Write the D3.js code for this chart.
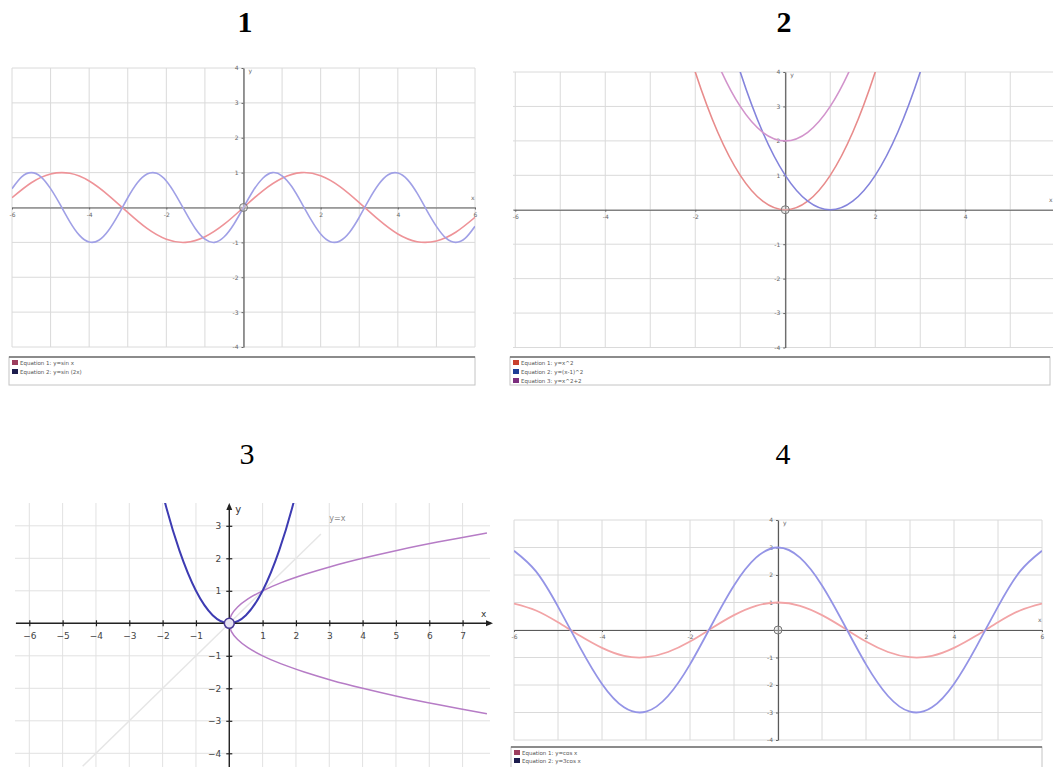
<!DOCTYPE html>
<html><head><meta charset="utf-8">
<script src="https://cdn.jsdelivr.net/npm/d3@7"></script>
<style>
html,body{margin:0;padding:0;background:#fff;}
svg{display:block;}
</style></head>
<body>
<svg id="c" width="1053" height="767"></svg>
<script>
// ---------------- data ----------------
const panelTitles = ["1", "2", "3", "4"];

// Panel 1 : y = sin x , y = sin(2x)
const p1X = [-6,-5.5,-5,-4.5,-4,-3.5,-3,-2.5,-2,-1.5,-1,-0.5,0,0.5,1,1.5,2,2.5,3,3.5,4,4.5,5,5.5,6];
const p1SinX = [0.28,0.71,0.96,0.98,0.76,0.35,-0.14,-0.6,-0.91,-1,-0.84,-0.48,0,0.48,0.84,1,0.91,0.6,0.14,-0.35,-0.76,-0.98,-0.96,-0.71,-0.28];
const p1X2 = [-6,-5.75,-5.5,-5.25,-5,-4.75,-4.5,-4.25,-4,-3.75,-3.5,-3.25,-3,-2.75,-2.5,-2.25,-2,-1.75,-1.5,-1.25,-1,-0.75,-0.5,-0.25,0,0.25,0.5,0.75,1,1.25,1.5,1.75,2,2.25,2.5,2.75,3,3.25,3.5,3.75,4,4.25,4.5,4.75,5,5.25,5.5,5.75,6];
const p1Sin2X = [0.54,0.88,1,0.88,0.54,0.08,-0.41,-0.8,-0.99,-0.94,-0.66,-0.22,0.28,0.71,0.96,0.98,0.76,0.35,-0.14,-0.6,-0.91,-1,-0.84,-0.48,0,0.48,0.84,1,0.91,0.6,0.14,-0.35,-0.76,-0.98,-0.96,-0.71,-0.28,0.22,0.66,0.94,0.99,0.8,0.41,-0.08,-0.54,-0.88,-1,-0.88,-0.54];
const p1Legend = ["Equation 1: y=sin x", "Equation 2: y=sin (2x)"];
const p1XTicks = [-6,-4,-2,2,4,6];
const p1YTicks = [-4,-3,-2,-1,1,2,3,4];

// Panel 2 : y = x^2 , y = (x-1)^2 , y = x^2+2
const p2XA = [-3,-2.5,-2,-1.5,-1,-0.5,0,0.5,1,1.5,2,2.5,3];
const p2Eq1 = [9,6.25,4,2.25,1,0.25,0,0.25,1,2.25,4,6.25,9];
const p2XB = [-2,-1.5,-1,-0.5,0,0.5,1,1.5,2,2.5,3,3.5,4];
const p2Eq2 = [9,6.25,4,2.25,1,0.25,0,0.25,1,2.25,4,6.25,9];
const p2XC = [-2.5,-2,-1.5,-1,-0.5,0,0.5,1,1.5,2,2.5];
const p2Eq3 = [8.25,6,4.25,3,2.25,2,2.25,3,4.25,6,8.25];
const p2Legend = ["Equation 1: y=x^2", "Equation 2: y=(x-1)^2", "Equation 3: y=x^2+2"];
const p2XTicks = [-6,-4,-2,2,4];
const p2YTicks = [-4,-3,-2,-1,1,2,3,4];

// Panel 3 : y = x^2 , x = y^2 , y = x
const p3ParX = [-2.5,-2,-1.5,-1,-0.5,0,0.5,1,1.5,2,2.5];
const p3ParY = [6.25,4,2.25,1,0.25,0,0.25,1,2.25,4,6.25];
const p3SideY = [-2.78,-2.5,-2.25,-2,-1.75,-1.5,-1.25,-1,-0.75,-0.5,-0.25,0,0.25,0.5,0.75,1,1.25,1.5,1.75,2,2.25,2.5,2.78];
const p3SideX = [7.73,6.25,5.06,4,3.06,2.25,1.56,1,0.56,0.25,0.06,0,0.06,0.25,0.56,1,1.56,2.25,3.06,4,5.06,6.25,7.73];
const p3DiagX = [-4.4, 2.75];
const p3DiagY = [-4.4, 2.75];
const p3DiagLabel = "y=x";
const p3XTicks = [-6,-5,-4,-3,-2,-1,1,2,3,4,5,6,7];
const p3YTicks = [-4,-3,-2,-1,1,2,3];

// Panel 4 : y = cos x , y = 3cos x
const p4X = [-6,-5.5,-5,-4.5,-4,-3.5,-3,-2.5,-2,-1.5,-1,-0.5,0,0.5,1,1.5,2,2.5,3,3.5,4,4.5,5,5.5,6];
const p4Cos = [0.96,0.71,0.28,-0.21,-0.65,-0.94,-0.99,-0.8,-0.42,0.07,0.54,0.88,1,0.88,0.54,0.07,-0.42,-0.8,-0.99,-0.94,-0.65,-0.21,0.28,0.71,0.96];
const p4Cos3 = [2.88,2.13,0.85,-0.63,-1.96,-2.81,-2.97,-2.4,-1.25,0.21,1.62,2.63,3,2.63,1.62,0.21,-1.25,-2.4,-2.97,-2.81,-1.96,-0.63,0.85,2.13,2.88];
const p4Legend = ["Equation 1: y=cos x", "Equation 2: y=3cos x"];
const p4XTicks = [-6,-4,-2,2,4,6];
const p4YTicks = [-4,-3,-2,-1,1,2,3,4];

// ---------------- drawing ----------------
const svg = d3.select("#c");
let clipId = 0;

function zip(xs, ys) { return xs.map((v, i) => [v, ys[i]]); }

function oldPanel(o) {
  const g = svg.append("g");
  const x = d3.scaleLinear().domain(o.xd).range([o.left, o.right]);
  const y = d3.scaleLinear().domain(o.yd).range([o.bottom, o.top]);
  // grid
  const gx = d3.range(Math.ceil(o.xd[0]), Math.floor(o.xd[1]) + 1);
  const gy = d3.range(Math.ceil(o.yd[0]), Math.floor(o.yd[1]) + 1);
  g.append("g").selectAll("line").data(gx).join("line")
    .attr("x1", d => x(d)).attr("x2", d => x(d))
    .attr("y1", o.top).attr("y2", o.bottom)
    .attr("stroke", "#dadada").attr("stroke-width", 1);
  g.append("g").selectAll("line").data(gy).join("line")
    .attr("y1", d => y(d)).attr("y2", d => y(d))
    .attr("x1", o.left).attr("x2", o.right)
    .attr("stroke", "#dadada").attr("stroke-width", 1);
  // axes
  const ax = g.append("g").attr("transform", `translate(0,${y(0)})`)
    .call(d3.axisBottom(x).tickValues(o.xt).tickSize(2).tickSizeOuter(0).tickPadding(3).tickFormat(d => d));
  const ay = g.append("g").attr("transform", `translate(${x(0)},0)`)
    .call(d3.axisLeft(y).tickValues(o.yt).tickSize(2).tickSizeOuter(0).tickPadding(3).tickFormat(d => d));
  [ax, ay].forEach(a => {
    a.select(".domain").attr("stroke", "#5a5a5a").attr("stroke-width", 1.2);
    a.selectAll(".tick line").attr("stroke", "#666");
    a.selectAll(".tick text").attr("fill", "#666").style("font-size", "6px").style("font-family", "DejaVu Sans");
  });
  g.append("text").attr("x", x(0) + 5).attr("y", o.top + 5).text("y")
    .attr("fill", "#666").style("font-size", "6px").style("font-family", "DejaVu Sans");
  g.append("text").attr("x", o.right - 4).attr("y", y(0) - 8).text("x")
    .attr("fill", "#666").style("font-size", "6px").style("font-family", "DejaVu Sans");
  // curves
  const id = "clip" + (clipId++);
  svg.append("clipPath").attr("id", id).append("rect")
    .attr("x", o.left).attr("y", o.top).attr("width", o.right - o.left).attr("height", o.bottom - o.top);
  const line = d3.line().x(d => x(d[0])).y(d => y(d[1])).curve(d3.curveNatural);
  const cg = g.append("g").attr("clip-path", `url(#${id})`);
  o.series.forEach(s => {
    cg.append("path").attr("d", line(zip(s.x, s.y)))
      .attr("fill", "none").attr("stroke", s.color).attr("stroke-width", s.w || 1.6)
      .attr("stroke-linejoin", "round");
  });
  // origin point
  g.append("circle").attr("cx", x(0)).attr("cy", y(0)).attr("r", 4)
    .attr("fill", "rgba(210,210,210,0.35)").attr("stroke", "#777").attr("stroke-width", 1);
  // legend
  const L = o.legend;
  g.append("rect").attr("x", L.x).attr("y", L.y).attr("width", L.w).attr("height", L.h)
    .attr("fill", "#fff").attr("stroke", "#c4c4c4").attr("stroke-width", 1);
  g.append("line").attr("x1", L.x).attr("x2", L.x + L.w).attr("y1", L.y).attr("y2", L.y)
    .attr("stroke", "#6e6e6e").attr("stroke-width", 1.6);
  L.items.forEach((t, i) => {
    const yy = L.y + 3 + i * L.step;
    g.append("rect").attr("x", L.x + 3).attr("y", yy).attr("width", 6).attr("height", 5)
      .attr("fill", L.colors[i]);
    g.append("text").attr("x", L.x + 11).attr("y", yy + 4.6).text(t)
      .attr("fill", "#555").style("font-size", "5.5px").style("font-family", "DejaVu Sans");
  });
}

// titles
const titleFont = "'Liberation Serif', 'Times New Roman', serif";
const titlePos = [[245, 32, "bold"], [784, 32, "bold"], [247, 464, "normal"], [783, 464, "normal"]];
svg.selectAll("text.title").data(panelTitles).join("text").attr("class", "title")
  .attr("x", (d, i) => titlePos[i][0]).attr("y", (d, i) => titlePos[i][1])
  .attr("text-anchor", "middle").style("font-family", titleFont).style("font-size", "30px")
  .style("font-weight", (d, i) => titlePos[i][2]).attr("fill", "#000").text(d => d);

// Panel 1
oldPanel({
  xd: [-6, 6], yd: [-4, 4], left: 12, right: 475, top: 68, bottom: 347,
  xt: p1XTicks, yt: p1YTicks,
  series: [
    { x: p1X, y: p1SinX, color: "#ee9398" },
    { x: p1X2, y: p1Sin2X, color: "#a0a0e6" }
  ],
  legend: { x: 9, y: 357, w: 466, h: 28, step: 9, items: p1Legend, colors: ["#9c3d5e", "#1d1d4e"] }
});

// Panel 2
oldPanel({
  xd: [-6.05, 5.95], yd: [-4, 4], left: 513, right: 1053, top: 72, bottom: 347.5,
  xt: p2XTicks, yt: p2YTicks,
  series: [
    { x: p2XA, y: p2Eq1, color: "#e88c8c" },
    { x: p2XB, y: p2Eq2, color: "#8484dc" },
    { x: p2XC, y: p2Eq3, color: "#d294cc" }
  ],
  legend: { x: 510, y: 357, w: 540, h: 28, step: 9, items: p2Legend, colors: ["#c8402e", "#1e3e96", "#7c2e7e"] }
});

// Panel 4
oldPanel({
  xd: [-6, 6], yd: [-4, 4], left: 514, right: 1042, top: 520, bottom: 740,
  xt: p4XTicks, yt: p4YTicks,
  series: [
    { x: p4X, y: p4Cos, color: "#f2a4a6", w: 1.8 },
    { x: p4X, y: p4Cos3, color: "#9494e6", w: 1.8 }
  ],
  legend: { x: 511, y: 747, w: 531, h: 24, step: 8, items: p4Legend, colors: ["#9c3d5e", "#1d1d4e"] }
});

// Panel 3 (newer style)
(function () {
  const left = 15, right = 493, top = 503, bottom = 767;
  const x = d3.scaleLinear().domain([-6, 7]).range([29.3, 462.6]);
  const y = d3.scaleLinear().domain([-4, 3]).range([753.3, 525.8]);
  const g = svg.append("g");
  const gx = d3.range(-6, 8);
  const gy = d3.range(-4, 4);
  g.append("g").selectAll("line").data(gx).join("line")
    .attr("x1", d => x(d)).attr("x2", d => x(d)).attr("y1", top).attr("y2", bottom)
    .attr("stroke", "#e2e2e2");
  g.append("g").selectAll("line").data(gy).join("line")
    .attr("y1", d => y(d)).attr("y2", d => y(d)).attr("x1", left).attr("x2", right - 3)
    .attr("stroke", "#e2e2e2");
  const id = "clip" + (clipId++);
  svg.append("clipPath").attr("id", id).append("rect")
    .attr("x", left).attr("y", top).attr("width", right - left).attr("height", bottom - top);
  const cg = g.append("g").attr("clip-path", `url(#${id})`);
  const lin = d3.line().x(d => x(d[0])).y(d => y(d[1]));
  cg.append("path").attr("d", lin(zip(p3DiagX, p3DiagY)))
    .attr("fill", "none").attr("stroke", "#e6e6e6").attr("stroke-width", 1.5);
  // axes
  const ax = g.append("g").attr("transform", `translate(0,${y(0)})`)
    .call(d3.axisBottom(x).tickValues(p3XTicks).tickSize(3).tickSizeOuter(0).tickPadding(6)
      .tickFormat(d => (d < 0 ? "\u2212" + Math.abs(d) : d)));
  const ay = g.append("g").attr("transform", `translate(${x(0)},0)`)
    .call(d3.axisLeft(y).tickValues(p3YTicks).tickSize(3).tickSizeOuter(0).tickPadding(5)
      .tickFormat(d => (d < 0 ? "\u2212" + Math.abs(d) : d)));
  ax.select(".domain").remove();
  ay.select(".domain").remove();
  [ax, ay].forEach(a => {
    a.selectAll(".tick line").attr("stroke", "#222").attr("stroke-width", 1.2);
    a.selectAll(".tick text").attr("fill", "#444").style("font-size", "9px").style("font-family", "DejaVu Sans");
  });
  ax.selectAll(".tick line").attr("y1", -3);
  ay.selectAll(".tick line").attr("x1", 3);
  g.append("line").attr("x1", 16).attr("x2", right - 2).attr("y1", y(0)).attr("y2", y(0))
    .attr("stroke", "#222").attr("stroke-width", 1.4);
  g.append("line").attr("x1", x(0)).attr("x2", x(0)).attr("y1", bottom).attr("y2", top + 2)
    .attr("stroke", "#222").attr("stroke-width", 1.4);
  g.append("path").attr("d", `M${right},${y(0)} L${right - 7},${y(0) - 3} L${right - 7},${y(0) + 3} Z`).attr("fill", "#222");
  g.append("path").attr("d", `M${x(0)},${top} L${x(0) - 3},${top + 7} L${x(0) + 3},${top + 7} Z`).attr("fill", "#222");
  g.append("text").attr("x", x(0) + 6).attr("y", top + 10).text("y")
    .attr("fill", "#333").style("font-size", "10px").style("font-family", "DejaVu Sans");
  g.append("text").attr("x", right - 12).attr("y", y(0) - 6).text("x")
    .attr("fill", "#333").style("font-size", "9px").style("font-family", "DejaVu Sans");
  g.append("text").attr("x", x(3)).attr("y", y(3.15)).text(p3DiagLabel)
    .attr("fill", "#888").style("font-size", "8px").style("font-family", "DejaVu Sans");
  // curves
  const curve = d3.line().x(d => x(d[0])).y(d => y(d[1])).curve(d3.curveCatmullRom.alpha(0.5));
  cg.append("path").attr("d", curve(zip(p3SideX, p3SideY)))
    .attr("fill", "none").attr("stroke", "#b67cc6").attr("stroke-width", 1.5);
  cg.append("path").attr("d", d3.line().x(d => x(d[0])).y(d => y(d[1])).curve(d3.curveNatural)(zip(p3ParX, p3ParY)))
    .attr("fill", "none").attr("stroke", "#3d3bb2").attr("stroke-width", 2);
  g.append("circle").attr("cx", x(0)).attr("cy", y(0)).attr("r", 5)
    .attr("fill", "#e8e4f2").attr("stroke", "#4a3a96").attr("stroke-width", 1.6);
})();
</script>
</body></html>
